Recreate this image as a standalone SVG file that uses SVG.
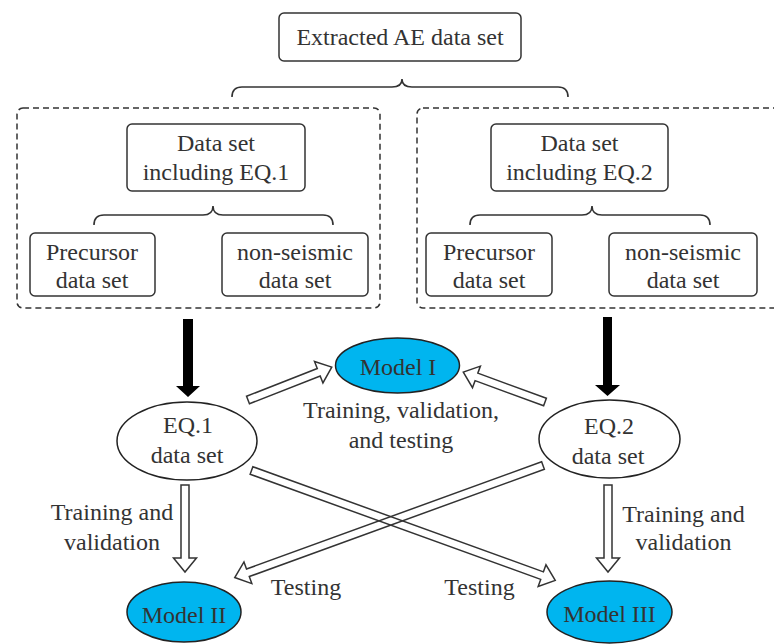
<svg xmlns="http://www.w3.org/2000/svg" width="774" height="644" viewBox="0 0 774 644">
<defs>
<style>
.box{fill:#fff;stroke:#333;stroke-width:1.5}
.dash{fill:none;stroke:#333;stroke-width:1.5;stroke-dasharray:6,4}
.brace{fill:none;stroke:#333;stroke-width:1.6}
.ell{fill:#fff;stroke:#222;stroke-width:1.5}
.model{fill:#00B5EF;stroke:#222;stroke-width:1.5}
.hollow{fill:none;stroke:#333;stroke-width:1.5;stroke-linejoin:miter}
.solid{fill:#000;stroke:none}
.t{font-family:'Liberation Serif','Times New Roman',Tinos,'DejaVu Serif',serif;font-size:24px;fill:#333;text-anchor:middle}
</style>
</defs>
<rect width="774" height="644" fill="#fff"/>

<g id="extracted">
<rect class="box" x="279" y="13" width="242" height="48" rx="5"/>
<text class="t" x="400" y="45">Extracted AE data set</text>
</g>

<g id="group-eq1">
<rect class="dash" x="17" y="108" width="363" height="200" rx="6"/>
</g>
<g id="group-eq2">
<rect class="dash" x="417" y="108" width="380" height="200" rx="6"/>
</g>

<g id="dataset-eq1">
<rect class="box" x="127" y="124" width="178" height="67" rx="5"/>
<text class="t" x="216" y="151">Data set</text>
<text class="t" x="216" y="180">including EQ.1</text>
</g>
<g id="precursor-1">
<rect class="box" x="30" y="233" width="125" height="63" rx="5"/>
<text class="t" x="92" y="260">Precursor</text>
<text class="t" x="92" y="288">data set</text>
</g>
<g id="nonseismic-1">
<rect class="box" x="222" y="233" width="146" height="63" rx="5"/>
<text class="t" x="295" y="260">non-seismic</text>
<text class="t" x="295" y="288">data set</text>
</g>

<g id="dataset-eq2">
<rect class="box" x="491" y="124" width="177" height="67" rx="5"/>
<text class="t" x="579.5" y="151">Data set</text>
<text class="t" x="579.5" y="180">including EQ.2</text>
</g>
<g id="precursor-2">
<rect class="box" x="426" y="233" width="126" height="63" rx="5"/>
<text class="t" x="489" y="260">Precursor</text>
<text class="t" x="489" y="288">data set</text>
</g>
<g id="nonseismic-2">
<rect class="box" x="609" y="233" width="148" height="63" rx="5"/>
<text class="t" x="683" y="260">non-seismic</text>
<text class="t" x="683" y="288">data set</text>
</g>

<g id="eq1">
<ellipse class="ell" cx="187" cy="441" rx="70" ry="39"/>
<text class="t" x="188" y="433">EQ.1</text>
<text class="t" x="187" y="463">data set</text>
</g>
<g id="eq2">
<ellipse class="ell" cx="609.5" cy="439" rx="70.5" ry="39"/>
<text class="t" x="609" y="434">EQ.2</text>
<text class="t" x="608" y="464">data set</text>
</g>
<g id="model1">
<ellipse class="model" cx="397.5" cy="365.5" rx="62" ry="27.5"/>
<text class="t" x="398" y="375">Model I</text>
</g>
<g id="model2">
<ellipse class="model" cx="184" cy="612" rx="57" ry="30"/>
<text class="t" x="184" y="623">Model II</text>
</g>
<g id="model3">
<ellipse class="model" cx="609.5" cy="612" rx="62.5" ry="31"/>
<text class="t" x="609.5" y="622">Model III</text>
</g>

<g id="connectors">
<path class="brace" d="M232,97 Q232,87 242,87 L392,87 Q402,87 402,79 Q402,87 412,87 L558,87 Q568,87 568,97"/>
<path class="brace" d="M94,225 Q94,215 104,215 L203,215 Q213,215 213,206 Q213,215 223,215 L323,215 Q333,215 333,225"/>
<path class="brace" d="M470,225 Q470,215 480,215 L582,215 Q592,215 592,206 Q592,215 602,215 L700,215 Q710,215 710,225"/>

<polygon class="solid" points="183,319 193,319 193,386 200,386 188,397 176,386 183,386"/>
<polygon class="solid" points="603,317 612,317 612,385 620,385 607.5,396 595,385 603,385"/>

<path class="hollow" transform="translate(248,400) rotate(-21.45)" d="M0,-4 H76 V-11.5 L90,0 L76,11.5 V4 H0 Z"/>
<path class="hollow" transform="translate(545,402) rotate(200.1)" d="M0,-4 H73 V-11.5 L87,0 L73,11.5 V4 H0 Z"/>
<path class="hollow" transform="translate(185,485) rotate(90)" d="M0,-4 H73 V-11.5 L87,0 L73,11.5 V4 H0 Z"/>
<path class="hollow" transform="translate(608,485) rotate(90)" d="M0,-4 H73 V-11.5 L87,0 L73,11.5 V4 H0 Z"/>
<path class="hollow" transform="translate(251.5,470.5) rotate(19.89)" d="M0,-4 H309 V-11.5 L323,0 L309,11.5 V4 H0 Z"/>
<path class="hollow" transform="translate(543,465.5) rotate(160.02)" d="M0,-4 H314 V-11.5 L328,0 L314,11.5 V4 H0 Z"/>

<text class="t" x="401" y="418">Training, validation,</text>
<text class="t" x="401" y="448">and testing</text>
<text class="t" x="112" y="520">Training and</text>
<text class="t" x="112" y="550">validation</text>
<text class="t" x="683.5" y="522">Training and</text>
<text class="t" x="683.5" y="550">validation</text>
<text class="t" x="306" y="595">Testing</text>
<text class="t" x="479.5" y="595">Testing</text>
</g>
</svg>
